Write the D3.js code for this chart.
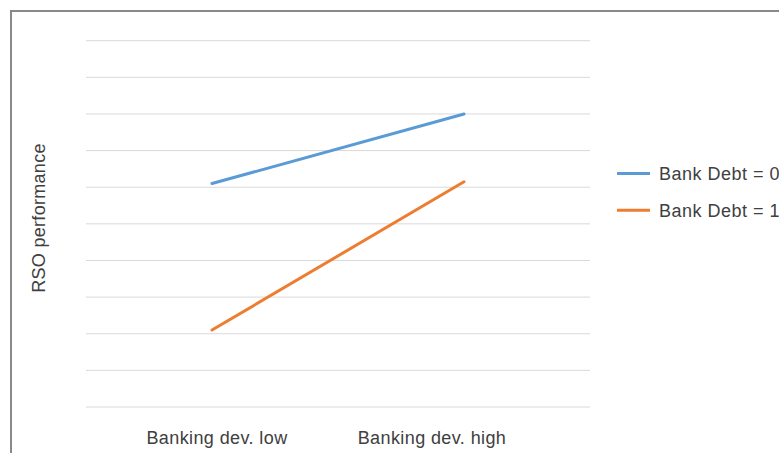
<!DOCTYPE html>
<html><head><meta charset="utf-8">
<script src="https://cdn.jsdelivr.net/npm/d3@7"></script>
<style>body{margin:0;background:#fff;}svg{display:block;font-family:"Liberation Sans",Arial,sans-serif;}</style>
</head><body><svg id="c" width="779" height="453"></svg>
<script>
const categories = ["Banking dev. low", "Banking dev. high"];
const seriesNames = ["Bank Debt = 0", "Bank Debt = 1"];
const bankDebt0 = [6.1, 8.0];
const bankDebt1 = [2.1, 6.15];
const seriesColors = ["#5b9bd5", "#ed7d31"];
const yTicks = [0,1,2,3,4,5,6,7,8,9,10];
const yLabel = "RSO performance";

(function(){
const svg = d3.select("#c");
svg.append("rect").attr("x",11).attr("y",11).attr("width",790).attr("height",470)
  .attr("fill","#fff").attr("stroke","#898989").attr("stroke-width",2);

const pL = 86, pR = 590, pT = 40.7, pB = 407;
const x = d3.scaleBand().domain(categories).range([pL,pR]);
const y = d3.scaleLinear().domain([0,10]).range([pB,pT]);
const labelX = d3.scalePoint().domain(categories).range([217,432]);

svg.append("g").selectAll("line").data(yTicks).join("line")
  .attr("x1",pL).attr("x2",pR)
  .attr("y1",d=>y(d)).attr("y2",d=>y(d))
  .attr("stroke","#d9d9d9").attr("stroke-width",1);

svg.append("g").selectAll("text").data(categories).join("text")
  .attr("x",d=>labelX(d)).attr("y",444)
  .attr("text-anchor","middle").attr("font-size",18).attr("letter-spacing",0.4).attr("fill","#404040")
  .text(d=>d);

svg.append("text").attr("transform","translate(45,218) rotate(-90)")
  .attr("text-anchor","middle").attr("font-size",18).attr("letter-spacing",0.3).attr("fill","#404040").text(yLabel);

const series = [bankDebt0, bankDebt1];
const line = d3.line().x((d,i)=>x(categories[i])+x.bandwidth()/2).y(d=>y(d));
series.forEach((s,k)=>{
  svg.append("path").attr("d",line(s)).attr("fill","none")
    .attr("stroke",seriesColors[k]).attr("stroke-width",3).attr("stroke-linecap","round");
});

const lg = svg.append("g");
seriesNames.forEach((n,k)=>{
  const yy = 173.5 + k*36.7;
  lg.append("line").attr("x1",617).attr("x2",650).attr("y1",yy).attr("y2",yy)
    .attr("stroke",seriesColors[k]).attr("stroke-width",3);
  lg.append("text").attr("x",659).attr("y",yy+6.5).attr("font-size",18).attr("letter-spacing",0.5).attr("fill","#404040").text(n);
});
})();
</script></body></html>
